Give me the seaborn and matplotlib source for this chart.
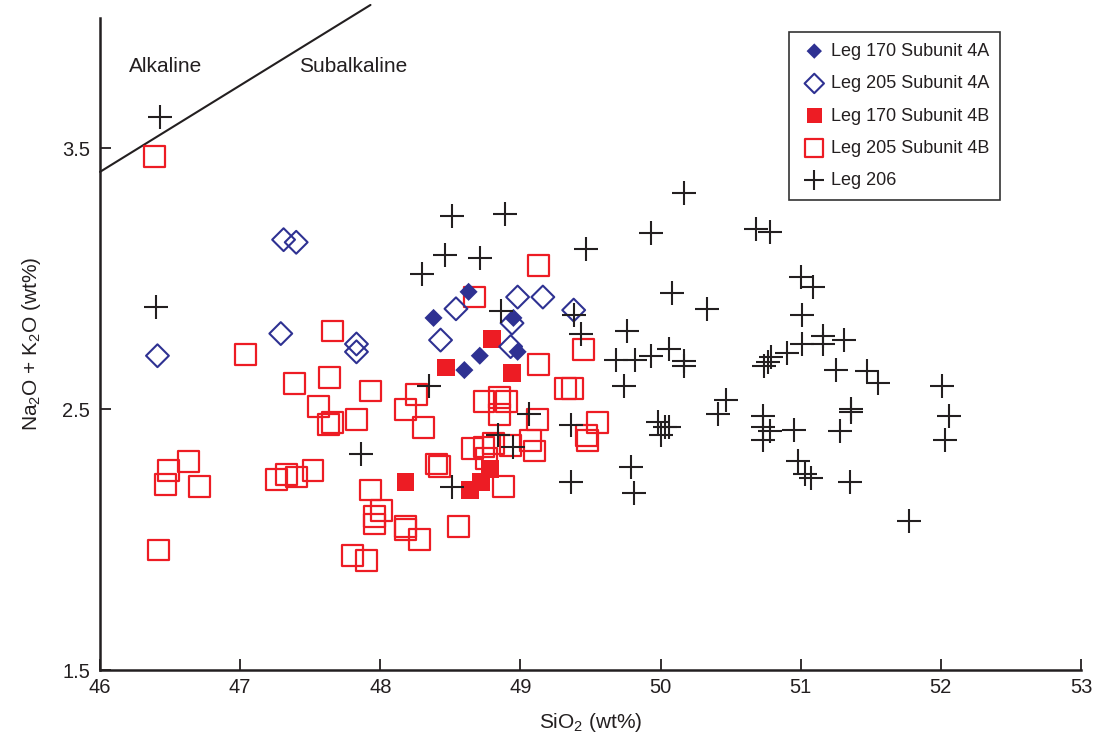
import matplotlib
matplotlib.use("Agg")
import matplotlib.pyplot as plt
import seaborn as sns
import pandas as pd

# ---------------- data ----------------
leg170_4a_x = [48.38, 48.63, 48.95, 48.71, 48.60, 48.98]
leg170_4a_y = [2.85, 2.95, 2.85, 2.705, 2.65, 2.72]

leg205_4a_x = [47.31, 47.40, 47.29, 46.41, 47.83, 47.83, 48.43, 48.54, 48.98, 49.16, 49.38, 48.94, 48.93]
leg205_4a_y = [3.15, 3.14, 2.79, 2.705, 2.75, 2.72, 2.765, 2.885, 2.93, 2.93, 2.88, 2.83, 2.74]

leg170_4b_x = [48.47, 48.80, 48.94, 48.18, 48.64, 48.72, 48.78]
leg170_4b_y = [2.66, 2.77, 2.64, 2.22, 2.19, 2.22, 2.27]

leg205_4b_x = [46.39,
               47.66, 47.04, 47.39, 47.64, 47.93, 48.26, 48.18, 48.31, 47.56, 47.66, 47.63, 47.83,
               46.63, 46.49, 46.47, 46.71, 47.26, 47.33, 47.40, 47.52,
               47.93, 48.01, 47.96, 47.96, 48.18, 48.18, 48.28, 47.80, 47.90, 46.42,
               48.40, 48.42,
               49.13, 48.67, 49.45, 49.13,
               48.74, 48.85, 48.90, 48.85, 49.32, 49.37, 49.55, 49.47, 49.48,
               48.66, 48.74, 48.81, 48.93, 49.07, 49.10, 48.76, 48.88, 48.56, 49.12]
leg205_4b_y = [3.47,
               2.80, 2.71, 2.60, 2.62, 2.57, 2.555, 2.50, 2.43, 2.51, 2.45, 2.44, 2.46,
               2.30, 2.265, 2.21, 2.205, 2.23, 2.25, 2.24, 2.265,
               2.19, 2.11, 2.09, 2.06, 2.05, 2.04, 2.00, 1.94, 1.92, 1.96,
               2.29, 2.28,
               3.05, 2.93, 2.73, 2.67,
               2.53, 2.545, 2.53, 2.48, 2.58, 2.58, 2.45, 2.40, 2.38,
               2.35, 2.355, 2.37, 2.36, 2.38, 2.34, 2.31, 2.205, 2.05, 2.46]

leg206_x = [46.43, 46.40, 47.86, 48.30, 48.46, 48.35,
            48.51, 48.89, 48.71, 49.47, 48.86, 49.38, 49.43, 49.76, 49.68, 49.82, 49.74,
            49.06, 49.36, 48.84, 48.95, 48.51, 49.36,
            50.17, 49.93, 50.68, 50.78, 51.00, 51.09, 50.08, 50.33, 51.01,
            51.01, 51.16, 51.16, 51.31, 49.93, 50.06, 50.17, 50.17,
            50.74, 50.77, 50.79, 50.90, 51.25, 51.47, 51.55,
            52.01, 52.06, 52.03, 50.47, 50.41, 51.36, 51.36,
            50.73, 50.73, 50.78, 50.73, 50.95, 51.28,
            49.98, 50.03, 50.00, 50.06,
            50.98, 51.03, 51.07, 51.35, 49.79, 49.81, 51.77]
leg206_y = [3.62, 2.89, 2.33, 3.02, 3.09, 2.59,
            3.24, 3.25, 3.08, 3.115, 2.875, 2.86, 2.79, 2.80, 2.69, 2.69, 2.59,
            2.48, 2.44, 2.40, 2.355, 2.20, 2.22,
            3.33, 3.175, 3.19, 3.18, 3.005, 2.97, 2.945, 2.885, 2.86,
            2.75, 2.78, 2.75, 2.765, 2.705, 2.73, 2.685, 2.665,
            2.667, 2.68, 2.70, 2.715, 2.65, 2.645, 2.60,
            2.59, 2.475, 2.38, 2.535, 2.48, 2.50, 2.49,
            2.475, 2.43, 2.415, 2.38, 2.42, 2.415,
            2.45, 2.43, 2.40, 2.43,
            2.30, 2.25, 2.235, 2.22, 2.28, 2.18, 2.07]

boundary_x = [46.0, 47.93]
boundary_y = [3.41, 4.05]

x_ticks = [46, 47, 48, 49, 50, 51, 52, 53]
y_ticks = [1.5, 2.5, 3.5]

BLUE = "#2e3192"
RED = "#ed1c24"
BLACK = "#231f20"

# ---------------- style ----------------
sns.set_style("white")
plt.rcParams["font.family"] = ["Liberation Sans", "DejaVu Sans"]
plt.rcParams["mathtext.fontset"] = "custom"
plt.rcParams["mathtext.rm"] = "Liberation Sans"
plt.rcParams["mathtext.it"] = "Liberation Sans:italic"
plt.rcParams["mathtext.bf"] = "Liberation Sans:bold"

fig = plt.figure(figsize=(10.97, 7.44), dpi=100)
ax = fig.add_axes([100 / 1097, 1 - 670 / 744, (1081 - 100) / 1097, (670 - 18) / 744])

ax.plot(boundary_x, boundary_y, color=BLACK, lw=1.5, clip_on=False, zorder=3)

df = {
    "a205": pd.DataFrame({"x": leg205_4a_x, "y": leg205_4a_y}),
    "a170": pd.DataFrame({"x": leg170_4a_x, "y": leg170_4a_y}),
    "b205": pd.DataFrame({"x": leg205_4b_x, "y": leg205_4b_y}),
    "b170": pd.DataFrame({"x": leg170_4b_x, "y": leg170_4b_y}),
    "c206": pd.DataFrame({"x": leg206_x, "y": leg206_y}),
}

sns.scatterplot(data=df["b205"], x="x", y="y", ax=ax, marker="s", s=225,
                facecolor="none", edgecolor=RED, linewidth=1.6, zorder=4,
                label="Leg 205 Subunit 4B")
sns.scatterplot(data=df["b170"], x="x", y="y", ax=ax, marker="s", s=165,
                color=RED, edgecolor="none", linewidth=0, zorder=5,
                label="Leg 170 Subunit 4B")
sns.scatterplot(data=df["a205"], x="x", y="y", ax=ax, marker="D", s=135,
                facecolor="none", edgecolor=BLUE, linewidth=1.5, zorder=6,
                label="Leg 205 Subunit 4A")
sns.scatterplot(data=df["a170"], x="x", y="y", ax=ax, marker="D", s=85,
                color=BLUE, edgecolor="none", linewidth=0, zorder=7,
                label="Leg 170 Subunit 4A")
sns.scatterplot(data=df["c206"], x="x", y="y", ax=ax, marker="+", s=300,
                color=BLACK, linewidth=1.5, zorder=8,
                label="Leg 206")

ax.set_xlim(46, 53)
ax.set_ylim(1.5, 4.0)
ax.set_xticks(x_ticks)
ax.set_yticks(y_ticks)
ax.set_xticklabels([str(v) for v in x_ticks])
ax.set_yticklabels([f"{v:.1f}" for v in y_ticks])
ax.tick_params(bottom=True, left=True, top=False, right=False,
               direction="in", length=8, width=1.3, labelsize=14.5, colors=BLACK,
               pad=7)
ax.tick_params(axis="x", pad=6)

for side in ["top", "right"]:
    ax.spines[side].set_visible(False)
for side in ["left", "bottom"]:
    ax.spines[side].set_linewidth(1.8)
    ax.spines[side].set_color(BLACK)

ax.set_xlabel("SiO$_2$ (wt%)", fontsize=15, color=BLACK, labelpad=10)
ax.set_ylabel("Na$_2$O + K$_2$O (wt%)", fontsize=15, color=BLACK, labelpad=14)

ax.text(46.47, 3.815, "Alkaline", fontsize=15, color=BLACK, ha="center", va="center")
ax.text(47.81, 3.815, "Subalkaline", fontsize=15, color=BLACK, ha="center", va="center")

# legend in reference order
handles, labels = ax.get_legend_handles_labels()
order = ["Leg 170 Subunit 4A", "Leg 205 Subunit 4A", "Leg 170 Subunit 4B",
         "Leg 205 Subunit 4B", "Leg 206"]
hmap = dict(zip(labels, handles))
leg = ax.legend([hmap[k] for k in order], order, loc="upper left",
                bbox_to_anchor=(789 / 1097, 1 - 32 / 744),
                bbox_transform=fig.transFigure, borderaxespad=0,
                fontsize=13, frameon=True, fancybox=False, framealpha=1,
                edgecolor="#333333", labelspacing=0.85, handletextpad=0.1,
                borderpad=0.6, handlelength=1.6, markerscale=0.85)
leg.get_frame().set_linewidth(1.2)
for t in leg.get_texts():
    t.set_color(BLACK)

fig.savefig("out.png", dpi=100)
